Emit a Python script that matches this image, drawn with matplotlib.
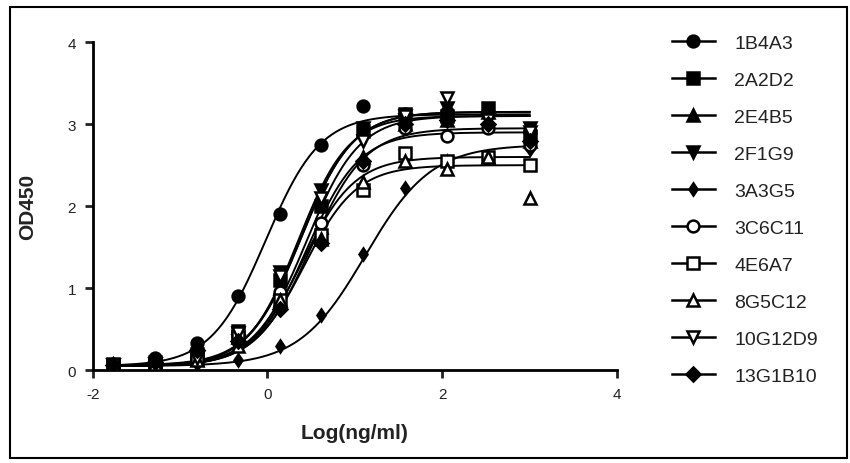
import numpy as np
import matplotlib
matplotlib.use("Agg")
import matplotlib.pyplot as plt
from matplotlib.patches import Rectangle

plt.rcParams['font.family'] = ['Liberation Sans', 'DejaVu Sans']
plt.rcParams['axes.unicode_minus'] = False

# log concentrations (3-fold dilutions)
log_conc = [-1.77, -1.29, -0.81, -0.34, 0.14, 0.61, 1.09, 1.57, 2.05, 2.52, 3.0]

names = ['1B4A3', '2A2D2', '2E4B5', '2F1G9', '3A3G5',
         '3C6C11', '4E6A7', '8G5C12', '10G12D9', '13G1B10']

od_1B4A3 = [0.08, 0.15, 0.33, 0.90, 1.90, 2.75, 3.22, 3.12, 3.15, 3.15, 2.90]
od_2A2D2 = [0.08, 0.10, 0.20, 0.48, 1.10, 2.00, 2.92, 3.12, 3.10, 3.20, 2.85]
od_2E4B5 = [0.07, 0.10, 0.18, 0.40, 1.00, 1.75, 2.60, 3.00, 3.05, 3.15, 2.80]
od_2F1G9 = [0.06, 0.08, 0.15, 0.35, 1.20, 2.20, 2.95, 3.05, 3.20, 3.05, 2.95]
od_3A3G5 = [0.05, 0.06, 0.08, 0.12, 0.30, 0.67, 1.42, 2.22, 2.55, 2.60, 2.70]
od_3C6C11 = [0.06, 0.08, 0.15, 0.35, 0.95, 1.80, 2.50, 2.95, 2.85, 2.95, 2.75]
od_4E6A7 = [0.06, 0.08, 0.14, 0.40, 0.85, 1.65, 2.20, 2.65, 2.55, 2.60, 2.50]
od_8G5C12 = [0.05, 0.07, 0.12, 0.30, 0.85, 1.60, 2.30, 2.55, 2.45, 2.60, 2.10]
od_10G12D9 = [0.06, 0.08, 0.15, 0.45, 1.15, 2.10, 2.80, 3.10, 3.32, 3.05, 2.90]
od_13G1B10 = [0.06, 0.10, 0.25, 0.35, 0.75, 1.55, 2.55, 3.00, 3.05, 3.00, 2.80]

series = [od_1B4A3, od_2A2D2, od_2E4B5, od_2F1G9, od_3A3G5,
          od_3C6C11, od_4E6A7, od_8G5C12, od_10G12D9, od_13G1B10]

# fitted 4PL parameters: bottom, top, logEC50, hill slope
fit_bottom = [0.05, 0.06, 0.06, 0.05, 0.05, 0.05, 0.05, 0.05, 0.05, 0.05]
fit_top = [3.12, 3.15, 3.10, 3.10, 2.75, 2.90, 2.60, 2.50, 3.15, 2.95]
fit_ec50 = [-0.02, 0.38, 0.45, 0.35, 1.12, 0.45, 0.40, 0.42, 0.38, 0.50]
fit_hill = [1.40, 1.45, 1.45, 1.50, 1.15, 1.45, 1.45, 1.45, 1.45, 1.40]

markers = ['o', 's', '^', 'v', 'd', 'o', 's', '^', 'v', 'D']
filled = [True, True, True, True, True, False, False, False, False, True]
sizes = [8.5, 8.5, 8.5, 8.5, 6, 8.5, 8.5, 8.5, 8.5, 7.5]

fig = plt.figure(figsize=(8.5, 4.64), dpi=100)
ax = fig.add_axes([0.109, 0.2, 0.617, 0.707])

xs = np.linspace(log_conc[0], log_conc[-1], 300)
handles = []
for i in range(len(names)):
    b, t, c, h = fit_bottom[i], fit_top[i], fit_ec50[i], fit_hill[i]
    curve = b + (t - b) / (1 + 10 ** ((c - xs) * h))
    ax.plot(xs, curve, color='black', lw=1.4, zorder=2)
    face = 'black' if filled[i] else 'white'
    ax.plot(log_conc, series[i], linestyle='none', marker=markers[i],
            ms=sizes[i], mfc=face, mec='black', mew=1.8, zorder=3)
    hd, = ax.plot([], [], color='black', lw=1.8, marker=markers[i],
                  ms=sizes[i], mfc=face, mec='black', mew=1.8)
    handles.append(hd)

ax.set_xlim(-2, 4)
ax.set_ylim(0, 4)
ax.set_xticks([-2, 0, 2, 4])
ax.set_yticks([0, 1, 2, 3, 4])
for s in ['top', 'right']:
    ax.spines[s].set_visible(False)
for s in ['left', 'bottom']:
    ax.spines[s].set_linewidth(2)
ax.tick_params(width=2, length=6, labelsize=11, pad=6, colors='#222222')
ax.set_xlabel('Log(ng/ml)', fontsize=15, fontweight='bold', labelpad=16, color='#222222')
ax.set_ylabel('OD450', fontsize=15, fontweight='bold', labelpad=22, color='#222222')

fig.legend(handles, names, loc='upper left', bbox_to_anchor=(0.77, 0.962),
           frameon=False, fontsize=14, handlelength=2.2, handletextpad=1.0,
           labelspacing=1.0, labelcolor='#222222')

fig.patches.append(Rectangle((0.012, 0.01), 0.985, 0.972, transform=fig.transFigure,
                             fill=False, edgecolor='black', lw=1.5))

fig.savefig('out.png', dpi=100)
